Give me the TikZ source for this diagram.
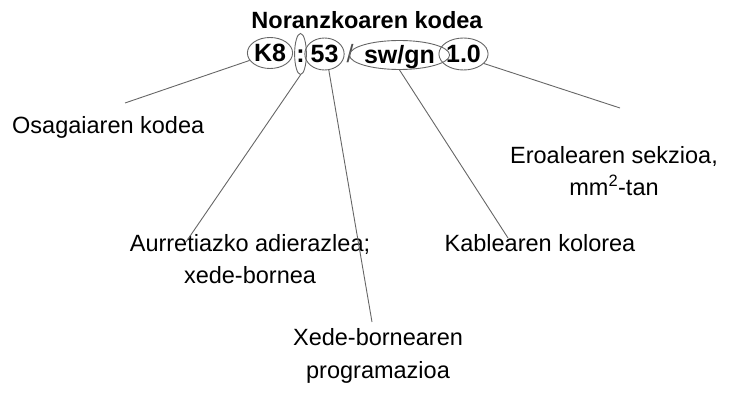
\documentclass[tikz,border=0pt]{standalone}
\usepackage{fontspec}
\setmainfont{Liberation Sans}
\usetikzlibrary{shapes.geometric,positioning}

\begin{document}
\begin{tikzpicture}[x=1pt,y=-1pt]
    \tikzset{
        code/.style={ellipse, draw=black!60, line width=0.9pt, inner sep=0pt, minimum height=31pt, text height=18pt, text depth=0pt, font=\bfseries\fontsize{25}{28}\selectfont},
        lbl/.style={align=center, inner sep=0pt, font=\fontsize{23.5}{32.5}\selectfont},
        c/.style={draw=black!60, line width=0.9pt},
    }
        \useasboundingbox (0,0) rectangle (752,398);

        \node[font=\bfseries\fontsize{23.5}{26}\selectfont] (title) at (367,20) {Noranzkoaren kodea};

        % code row
        \node[code, minimum width=41pt] (k8) at (270,53) {K8};
        \node[code, minimum width=10pt, minimum height=41pt] (colon) at (300.5,54) {:};
        \node[code, minimum width=35pt, minimum height=32pt] (n53) at (324.5,54) {53};
        \node[inner sep=0pt, text height=18pt, text depth=0pt, text=black!70, font=\fontsize{25}{28}\selectfont] (slash) at (350,54) {/};
        \node[code, minimum width=85pt, minimum height=29pt] (swgn) at (399.5,55) {sw/gn};
        \node[code, minimum width=37pt, minimum height=32pt] (sect) at (463.5,54) {1.0};

        % labels
        \node[lbl, anchor=west] (osag) at (12,127) {Osagaiaren kodea};
        \node[lbl] (aurre) at (250,259) {Aurretiazko adierazlea;\\xede-bornea};
        \node[lbl] (xede) at (378,356) {Xede-bornearen\\programazioa};
        \node[lbl] (kable) at (540,243) {Kablearen kolorea};
        \node[lbl] (eroal) at (614,171) {Eroalearen sekzioa,\\mm\textsuperscript{2}-tan};

        \coordinate (osagEnd) at (125,103);
        \coordinate (aurreEnd) at (186,242);
        \coordinate (xedeEnd) at (372,322);
        \coordinate (kableEnd) at (508,238);
        \coordinate (eroalEnd) at (620,108);

        \draw[c] (k8.200) -- (osagEnd);
        \draw[c] (colon.south) -- (aurreEnd);
        \draw[c] (n53.-75) -- (xedeEnd);
        \draw[c] (swgn.south) -- (kableEnd);
        \draw[c] (sect.-25) -- (eroalEnd);
    \end{tikzpicture}
\end{document}
